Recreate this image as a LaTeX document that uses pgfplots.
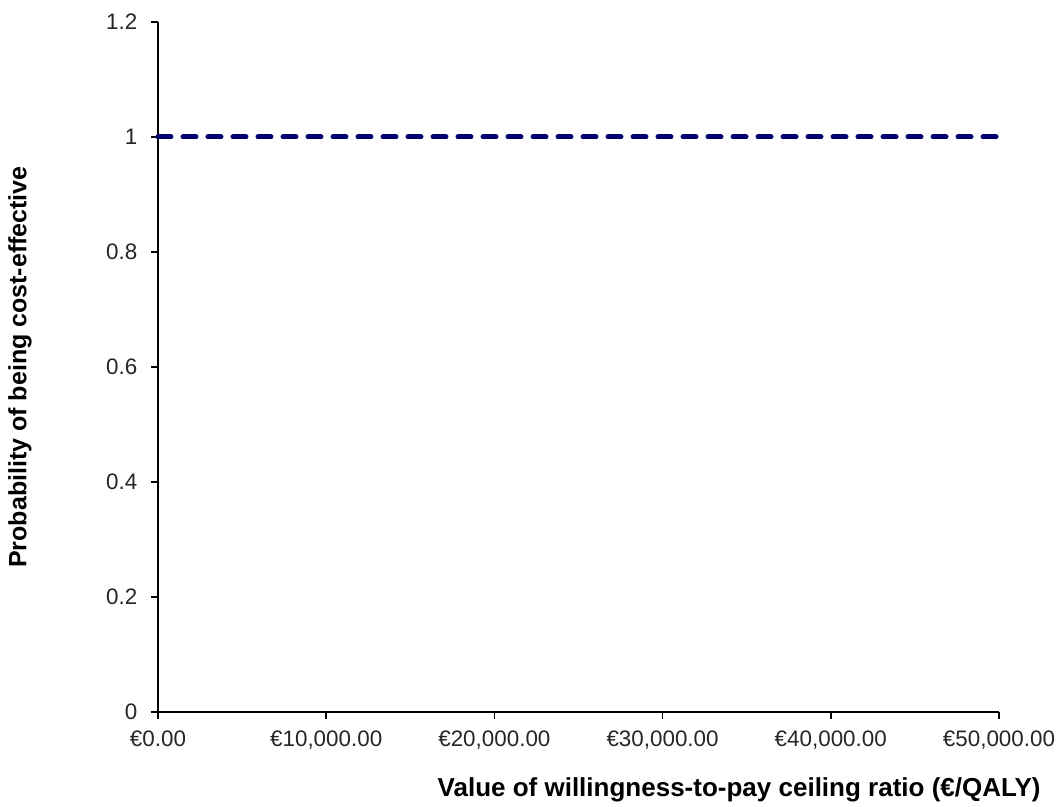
\documentclass[border=0pt]{standalone}
\usepackage{pgfplots}
\pgfplotsset{compat=1.18}
\usepackage{fontspec}
\setmainfont{Liberation Sans}
\definecolor{ceacnavy}{RGB}{0,0,110}

\begin{document}
\fontsize{11pt}{13pt}\selectfont
\begin{tikzpicture}
\useasboundingbox (-79pt,-47.5pt) rectangle (449pt,356pt);
\begin{axis}[
    at={(0,0)}, anchor=south west,
    scale only axis,
    width=420.5pt, height=345pt, % plot area
    xmin=0, xmax=50000,
    ymin=0, ymax=1.2,
    axis x line*=bottom,
    axis y line*=left,
    axis line style={-, black, line width=0.8pt},
    tick align=outside,
    major tick length=3.5pt,
    tick style={black, line width=0.8pt},
    scaled x ticks=false,
    xtick={0,10000,20000,30000,40000,50000},
    xticklabels={€0.00,{€10,000.00},{€20,000.00},{€30,000.00},{€40,000.00},{€50,000.00}},
    ytick={0,0.2,0.4,0.6,0.8,1,1.2},
    yticklabels={0,0.2,0.4,0.6,0.8,1,1.2},
    ticklabel style={font=\fontsize{11.2pt}{13pt}\selectfont, text=black!85},
    xticklabel style={yshift=-2pt},
    yticklabel style={xshift=-3pt},
    xlabel={Value of willingness-to-pay ceiling ratio (€/QALY)},
    ylabel={Probability of being cost-effective},
    xlabel style={font=\bfseries\fontsize{13pt}{15pt}\selectfont, at={(axis description cs:0.691,0)}, anchor=center, yshift=-39pt},
    ylabel style={font=\bfseries\fontsize{12.5pt}{15pt}\selectfont, at={(axis description cs:0,0.5)}, anchor=center, yshift=69pt},
    clip=false,
    ]
\addplot[ceacnavy, line width=2.5pt, line cap=round, dash pattern=on 6.5pt off 6pt]
  coordinates {(0,1) (5000,1) (10000,1) (15000,1) (20000,1) (25000,1) (30000,1) (35000,1) (40000,1) (45000,1) (50000,1)};
\end{axis}
\end{tikzpicture}
\end{document}
